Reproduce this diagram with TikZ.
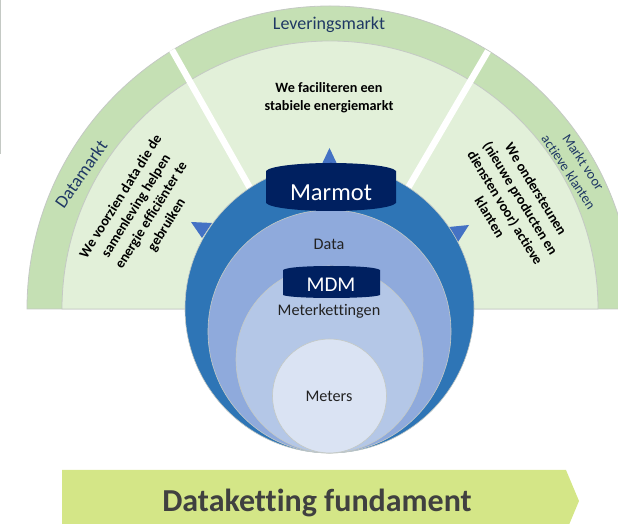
\documentclass[tikz,border=0pt]{standalone}
\usepackage{fontspec}
\setmainfont[Ligatures=NoCommon]{Carlito}
\definecolor{band}{HTML}{C5E0B4}
\definecolor{inner}{HTML}{E2F0D9}
\definecolor{edge}{HTML}{C4C9C4}
\definecolor{navy}{HTML}{002060}
\definecolor{lab}{HTML}{1F3864}
\definecolor{ringa}{HTML}{2E75B6}
\definecolor{ringb}{HTML}{8FAADC}
\definecolor{ringc}{HTML}{B4C7E7}
\definecolor{ringd}{HTML}{DAE3F3}
\definecolor{tri}{HTML}{4472C4}
\definecolor{banner}{HTML}{D4E687}
\definecolor{ink}{HTML}{222222}
\tikzset{
  x=1pt,y=1pt,
  sector/.style={draw=edge,line width=0.8pt},
  ring/.style={circle,draw=edge,line width=0.6pt,inner sep=0pt,minimum size=#1},
  gap/.style={draw=white,line width=6.5pt},
  marker/.style={fill=tri,draw=none},
  disk/.style={fill=navy,draw=none},
  marketlabel/.style={text=lab,font=\fontsize{18}{19}\selectfont,align=center},
  marketsmall/.style={text=lab,font=\fontsize{14}{17.5}\selectfont,align=center},
  claim/.style={text=black,font=\bfseries\fontsize{14.2}{18}\selectfont,align=center},
  ringlabel/.style={text=ink,font=\fontsize{16.2}{17}\selectfont},
  disklabel/.style={text=white},
}
\begin{document}
\begin{tikzpicture}
\useasboundingbox (0,0) rectangle (618,524);
\clip (0,0) rectangle (618,524);
% page edge
\draw[draw=edge,line width=1pt] (0.5,524) -- (0.5,370);
% half discs
\draw[sector,fill=band] (27,215) arc[start angle=180,end angle=0,radius=303] -- cycle;
\draw[sector,fill=inner] (62,215) arc[start angle=180,end angle=0,radius=268] -- cycle;
% gaps
\coordinate (gapLa) at (172,474);
\coordinate (gapLb) at (250,336);
\coordinate (gapRa) at (488,473);
\coordinate (gapRb) at (408,336);
\draw[gap] (gapLa) -- (gapLb);
\draw[gap] (gapRa) -- (gapRb);
% arrowheads
\fill[marker] (329.5,376) -- (321,358) -- (338,358) -- cycle;
\fill[marker] (191,302) -- (212,301) -- (202,286) -- cycle;
\fill[marker] (469,299) -- (449,297) -- (458,282) -- cycle;
% rings
\node[ring=289pt,fill=ringa] (outerring) at (329.5,215.5) {};
\node[ring=243pt,fill=ringb] (dataring) at (329.5,192.5) {};
\node[ring=187pt,fill=ringc] (chainring) at (329.5,164.5) {};
\node[ring=114pt,fill=ringd] (meterring) at (329.5,128) {};
% cylinders
\fill[disk] (266,353) .. controls (270,358) and (300,361) .. (331,361) .. controls (362,361) and (392,358) .. (396,353) -- (396,321) .. controls (392,316) and (362,313) .. (331,313) .. controls (300,313) and (270,316) .. (266,321) -- cycle;
\fill[disk] (283,254) .. controls (287,257) and (310,258) .. (331.5,258) .. controls (353,258) and (376,257) .. (380,254) -- (380,229) .. controls (376,227) and (353,226) .. (331.5,226) .. controls (310,226) and (287,227) .. (283,229) -- cycle;
% labels
\node[marketlabel] (lever) at (329,499) {Leveringsmarkt};
\node[marketlabel,rotate=55] (datam) at (81,350) {Datamarkt};
\node[marketsmall,rotate=-56.5] (actief) at (576,357) {Markt voor\\actieve klanten};
\node[claim] (mid) at (329,426) {We faciliteren een\\stabiele energiemarkt};
\node[claim,rotate=58] (left) at (144,313) {We voorzien data die de\\samenleving helpen\\energie efficiënter te\\gebruiken};
\node[claim,rotate=-58.5] (right) at (513,321) {We ondersteunen\\(nieuwe producten en\\diensten voor) actieve\\klanten};
\node[disklabel,font=\fontsize{24.5}{26}\selectfont] (marmot) at (331,331) {Marmot};
\node[disklabel,font=\fontsize{21}{22}\selectfont] (mdm) at (331,239) {MDM};
\node[ringlabel] (data) at (329,280) {Data};
\node[ringlabel] (kettingen) at (329,213) {Meterkettingen};
\node[ringlabel] (meters) at (329,128) {Meters};
% banner
\fill[banner] (62,54) -- (566,54) -- (579,23) -- (566,-8) -- (62,-8) -- cycle;
\node[text=black!75,font=\bfseries\fontsize{32}{33}\selectfont] (fund) at (317,21) {Dataketting fundament};
\end{tikzpicture}
\end{document}
